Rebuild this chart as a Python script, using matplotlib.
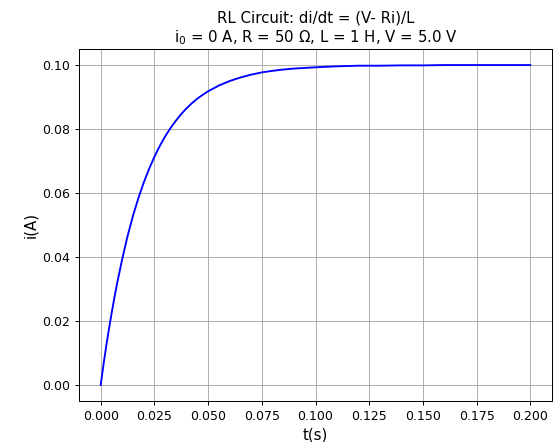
import matplotlib
matplotlib.use("Agg")
import matplotlib.pyplot as plt

t = [0.0, 0.00125, 0.0025, 0.00375, 0.005, 0.00625, 0.0075, 0.01, 0.0125, 0.015, 0.0175, 0.02, 0.0225, 0.025,
     0.0275, 0.03, 0.0325, 0.035, 0.0375, 0.04, 0.0425, 0.045, 0.0475, 0.05, 0.055, 0.06, 0.065, 0.07, 0.075, 0.08,
     0.085, 0.09, 0.095, 0.10, 0.11, 0.12, 0.13, 0.14, 0.15, 0.16, 0.17, 0.18, 0.19, 0.20]
current = [0.0, 0.0061, 0.0118, 0.0171, 0.0221, 0.0268, 0.0313, 0.0393, 0.0465, 0.0528, 0.0583, 0.0632, 0.0675, 0.0713,
           0.0747, 0.0777, 0.0803, 0.0826, 0.0847, 0.0865, 0.0881, 0.0895, 0.0907, 0.0918, 0.0936, 0.0950, 0.0961, 0.0970, 0.0977, 0.0982,
           0.0986, 0.0989, 0.0991, 0.0993, 0.0996, 0.0998, 0.0998, 0.0999, 0.0999, 0.1000, 0.1000, 0.1000, 0.1000, 0.1000]
xticks = [0.0, 0.025, 0.05, 0.075, 0.1, 0.125, 0.15, 0.175, 0.2]
yticks = [0.0, 0.02, 0.04, 0.06, 0.08, 0.10]

fig = plt.figure(figsize=(5.54, 4.42), dpi=100)
ax = fig.add_axes([0.143, 0.093, 0.853, 0.796])
ax.plot(t, current, color="blue", linewidth=1.35)
ax.set_xticks(xticks)
ax.set_yticks(yticks)
ax.set_xticklabels([f"{v:.3f}" for v in xticks])
ax.set_yticklabels([f"{v:.2f}" for v in yticks])
ax.tick_params(labelsize=9, length=3.2, width=0.72)
for s in ax.spines.values():
    s.set_linewidth(0.72)
ax.set_xlim(-0.01, 0.21)
ax.set_ylim(-0.005, 0.105)
ax.grid(True, linewidth=0.72)
ax.set_xlabel("t(s)", fontsize=10.8, labelpad=3)
ax.set_ylabel("i(A)", fontsize=10.8, labelpad=3)
ax.set_title("RL Circuit: di/dt = (V- Ri)/L\n$\\mathregular{i_0}$ = 0 A, R = 50 Ω, L = 1 H, V = 5.0 V",
             fontsize=10.8, pad=5)
fig.savefig("out.png", dpi=100)
